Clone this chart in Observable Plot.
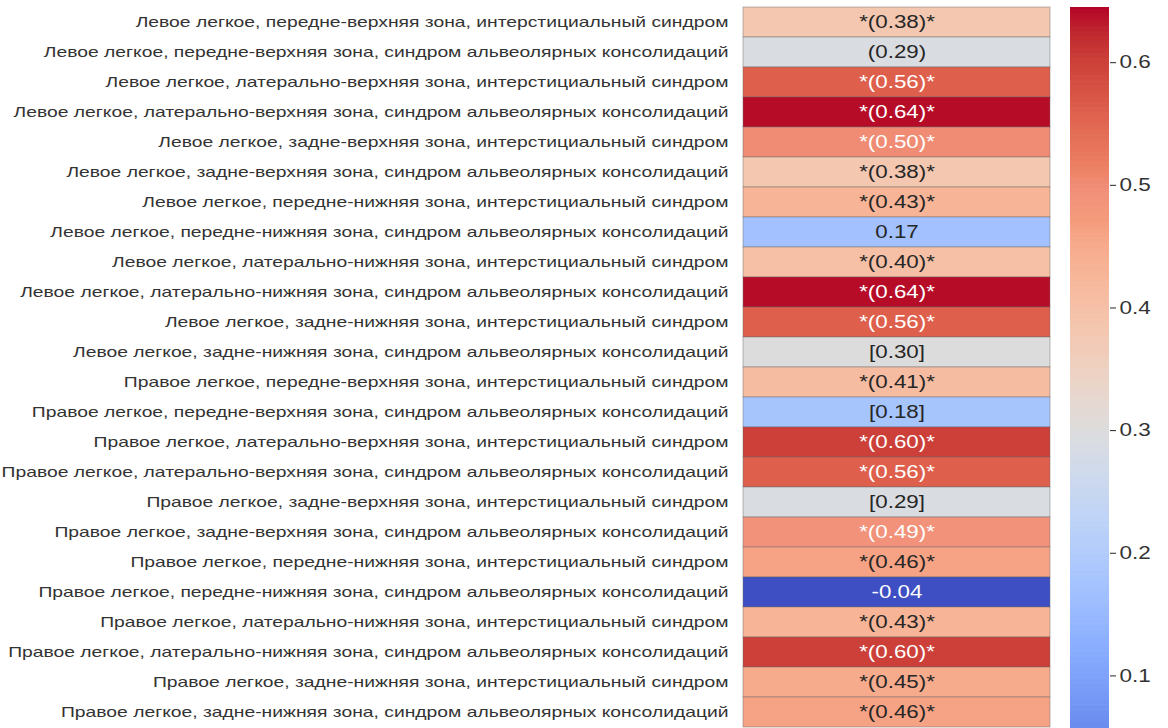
<!DOCTYPE html>
<html lang="ru">
<head>
<meta charset="utf-8">
<script src="https://cdn.jsdelivr.net/npm/d3@7"></script>
<script src="https://cdn.jsdelivr.net/npm/@observablehq/plot@0.6"></script>
<style>
  html, body { margin: 0; padding: 0; background: #fff; overflow: hidden; }
  #wrap { position: relative; width: 1168px; height: 728px; overflow: hidden; font-family: "Liberation Sans", Arial, sans-serif; }
  #heat { position: absolute; left: 0; top: 0; }
  #bar { position: absolute; left: 1060px; top: 0; }
</style>
</head>
<body>
<div id="wrap"><div id="heat"></div><div id="bar"></div></div>
<script>
// Row labels (lung zone + ultrasound syndrome)
const zones = [
  "Левое легкое, передне-верхняя зона, интерстициальный синдром",
  "Левое легкое, передне-верхняя зона, синдром альвеолярных консолидаций",
  "Левое легкое, латерально-верхняя зона, интерстициальный синдром",
  "Левое легкое, латерально-верхняя зона, синдром альвеолярных консолидаций",
  "Левое легкое, задне-верхняя зона, интерстициальный синдром",
  "Левое легкое, задне-верхняя зона, синдром альвеолярных консолидаций",
  "Левое легкое, передне-нижняя зона, интерстициальный синдром",
  "Левое легкое, передне-нижняя зона, синдром альвеолярных консолидаций",
  "Левое легкое, латерально-нижняя зона, интерстициальный синдром",
  "Левое легкое, латерально-нижняя зона, синдром альвеолярных консолидаций",
  "Левое легкое, задне-нижняя зона, интерстициальный синдром",
  "Левое легкое, задне-нижняя зона, синдром альвеолярных консолидаций",
  "Правое легкое, передне-верхняя зона, интерстициальный синдром",
  "Правое легкое, передне-верхняя зона, синдром альвеолярных консолидаций",
  "Правое легкое, латерально-верхняя зона, интерстициальный синдром",
  "Правое легкое, латерально-верхняя зона, синдром альвеолярных консолидаций",
  "Правое легкое, задне-верхняя зона, интерстициальный синдром",
  "Правое легкое, задне-верхняя зона, синдром альвеолярных консолидаций",
  "Правое легкое, передне-нижняя зона, интерстициальный синдром",
  "Правое легкое, передне-нижняя зона, синдром альвеолярных консолидаций",
  "Правое легкое, латерально-нижняя зона, интерстициальный синдром",
  "Правое легкое, латерально-нижняя зона, синдром альвеолярных консолидаций",
  "Правое легкое, задне-нижняя зона, интерстициальный синдром",
  "Правое легкое, задне-нижняя зона, синдром альвеолярных консолидаций"
];

// Correlation coefficients
const coefficients = [
  0.38, 0.29, 0.56, 0.64, 0.50, 0.38, 0.43, 0.17, 0.40, 0.64, 0.56, 0.30,
  0.41, 0.18, 0.60, 0.56, 0.29, 0.49, 0.46, -0.04, 0.43, 0.60, 0.45, 0.46
];

// Significance marker for each coefficient: "sig" → *(r)*, "paren" → (r), "square" → [r], "plain" → r
const markers = [
  "sig", "paren", "sig", "sig", "sig", "sig", "sig", "plain", "sig", "sig", "sig", "square",
  "sig", "square", "sig", "sig", "square", "sig", "sig", "plain", "sig", "sig", "sig", "sig"
];

// Colour limits of the colour bar
const vmin = -0.044, vmax = 0.645;
const colorbarTicks = [0.1, 0.2, 0.3, 0.4, 0.5, 0.6];

// Diverging blue–grey–red ("coolwarm") stops
const coolwarmStops = [
  "#3b4cc0", "#445acc", "#4d68d7", "#5875e1", "#6282ea", "#6c8ff1", "#779af7", "#82a6fb",
  "#8db0fe", "#98b9ff", "#a3c2fe", "#aec9fc", "#b8d0f9", "#c2d5f4", "#cbd8ee", "#d4dbe6",
  "#dddcdc", "#e5d8d1", "#ecd3c5", "#f1ccb8", "#f4c5ad", "#f6bda2", "#f7b497", "#f7aa8c",
  "#f49a7b", "#f1907a", "#ec7f63", "#e57058", "#de604d", "#d55042", "#cb3e38", "#c0282f",
  "#b40426"
];
const coolwarm = d3.piecewise(d3.interpolateRgb, coolwarmStops);

const rows = zones.map((zone, i) => {
  const r = coefficients[i].toFixed(2);
  const m = markers[i];
  const text = m === "sig" ? `*(${r})*` : m === "paren" ? `(${r})` : m === "square" ? `[${r}]` : r;
  return {zone, value: coefficients[i], text};
});

const colorScale = {type: "linear", domain: [vmin, vmax], interpolate: () => coolwarm, clamp: true};
const font = "'Liberation Sans', Arial, sans-serif";

const heat = Plot.plot({
  width: 1060,
  height: 728,
  marginLeft: 743,
  marginRight: 10,
  marginTop: 7,
  marginBottom: 1,
  style: {fontFamily: font, background: "transparent", color: "#262626"},
  x: {type: "band", domain: ["r"], padding: 0, axis: null},
  y: {type: "band", domain: zones, padding: 0, label: null},
  color: colorScale,
  marks: [
    Plot.cell(rows, {x: () => "r", y: "zone", fill: "value", stroke: "#666", strokeOpacity: 0.45, strokeWidth: 1, inset: 0}),
    Plot.text(rows, {
      x: () => "r", y: "zone", text: "text",
      fill: d => (d.value >= 0.48 || d.value < 0.1) ? "white" : "#262626",
      fontSize: 18
    }),
    Plot.axisY({tickSize: 0, tickPadding: 15, fontSize: 14.5, fill: "#333", label: null})
  ]
});
document.getElementById("heat").appendChild(heat);

// Vertical colour bar
const bands = d3.range(vmin, vmax, 0.002);
const bar = Plot.plot({
  width: 108,
  height: 860,
  marginLeft: 10,
  marginRight: 59,
  marginTop: 7,
  marginBottom: 8,
  style: {fontFamily: font, background: "transparent", color: "#262626"},
  x: {domain: [0, 1], axis: null},
  y: {domain: [vmin, vmax], label: null},
  color: colorScale,
  marks: [
    Plot.rect(bands, {x1: 0, x2: 1, y1: d => d, y2: d => Math.min(d + 0.0025, vmax), fill: d => d + 0.001}),
    Plot.axisY({anchor: "right", ticks: colorbarTicks, tickFormat: ".1f", tickSize: 6, tickPadding: 4, fontSize: 18, fill: "#333", label: null})
  ]
});
document.getElementById("bar").appendChild(bar);

// The figure's lettering is set wide: stretch each text run horizontally.
function widen(svg, selector, factor) {
  svg.querySelectorAll(selector).forEach(t => {
    const w = t.getComputedTextLength();
    t.setAttribute("textLength", (w * factor).toFixed(1));
    t.setAttribute("lengthAdjust", "spacingAndGlyphs");
  });
}
widen(heat, 'g[aria-label="y-axis tick label"] text', 1.33);
widen(heat, 'g[aria-label="text"] text', 1.24);
widen(bar, 'g[aria-label="y-axis tick label"] text', 1.25);
</script>
</body>
</html>
